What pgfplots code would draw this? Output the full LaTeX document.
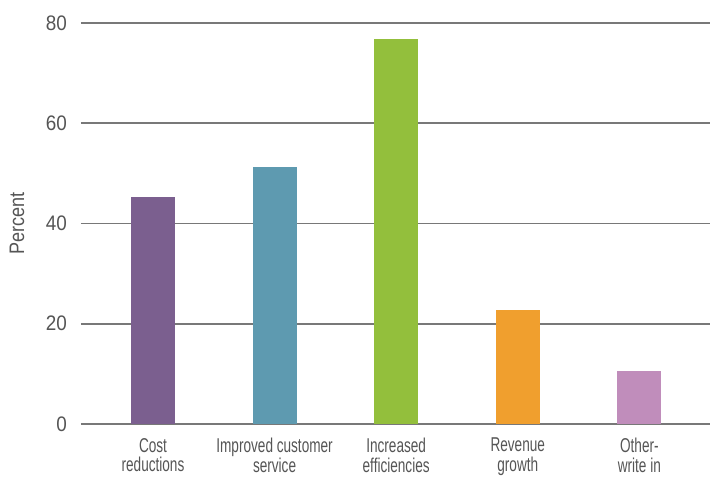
\documentclass[border=0pt]{standalone}
\usepackage{fontspec}
\setmainfont{Liberation Sans}
\newfontfamily\tickfont[FakeStretch=0.9]{Liberation Sans}
\newfontfamily\catfont[FakeStretch=0.68]{Liberation Sans}
\newfontfamily\labfont[FakeStretch=0.86]{Liberation Sans}
\usepackage{pgfplots}
\pgfplotsset{compat=1.18}
\definecolor{txt}{HTML}{555555}
\definecolor{gridc}{HTML}{787878}
\definecolor{c1}{HTML}{7B5F8F}
\definecolor{c2}{HTML}{5E9AB0}
\definecolor{c3}{HTML}{93BF3C}
\definecolor{c4}{HTML}{F09F2E}
\definecolor{c5}{HTML}{C08DBB}
\begin{document}
\begin{tikzpicture}
\begin{axis}[
  width=629pt, height=401pt, scale only axis,
  xmin=-0.592, xmax=4.581, ymin=0, ymax=80,
  enlarge y limits=false,
  axis line style={draw=none},
  tick style={draw=none},
  ymajorgrids, grid style={line width=1.9pt, gridc},
  ytick={0,20,40,60,80},
  xtick={0,1,2,3,4},
  xticklabels={{Cost\\reductions},{Improved customer\\service},{Increased\\efficiencies},{Revenue\\growth},{Other-\\write in}},
  /pgf/number format/assume math mode=true,
  yticklabel style={font=\tickfont\fontsize{21}{22}\selectfont, text=txt, anchor=east, inner sep=0pt, xshift=-14pt},
  xticklabel style={font=\catfont\fontsize{20}{19.5}\selectfont, text=txt, align=center, anchor=north, inner sep=0pt, yshift=-14pt},
  ylabel={Percent},
  ylabel style={font=\labfont\fontsize{21}{22}\selectfont, text=txt, at={(axis description cs:-0.1018,0.5)}, anchor=center},
]
\addplot[ybar, bar shift=0pt, bar width=44pt, fill=c1, draw=none] coordinates {(0,45.3)};
\addplot[ybar, bar shift=0pt, bar width=44pt, fill=c2, draw=none] coordinates {(1,51.3)};
\addplot[ybar, bar shift=0pt, bar width=44pt, fill=c3, draw=none] coordinates {(2,76.9)};
\addplot[ybar, bar shift=0pt, bar width=44pt, fill=c4, draw=none] coordinates {(3,22.7)};
\addplot[ybar, bar shift=0pt, bar width=44pt, fill=c5, draw=none] coordinates {(4,10.6)};
\end{axis}
\pgfresetboundingbox
\path[use as bounding box] (-81pt,-53pt) rectangle (629pt,424pt);
\end{tikzpicture}
\end{document}
